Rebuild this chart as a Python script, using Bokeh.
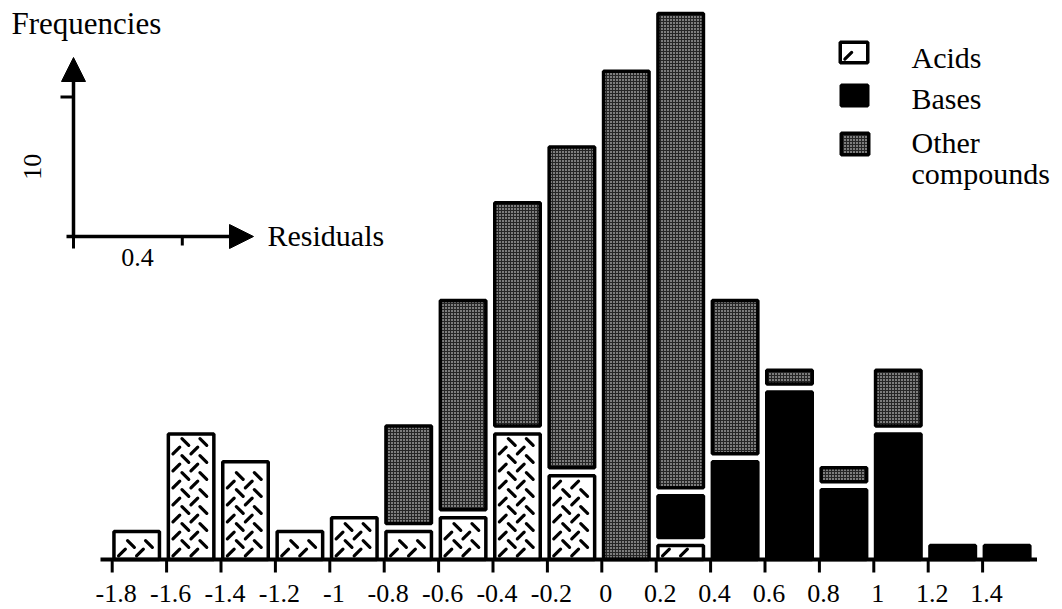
import math
from bokeh.plotting import figure
from bokeh.models import Range1d, Arrow, NormalHead
from bokeh.embed import file_html
from bokeh.resources import INLINE
from bokeh.core.properties import value

# ---------------- data ----------------
bin_lefts = [-1.8, -1.6, -1.4, -1.2, -1.0, -0.8, -0.6, -0.4, -0.2, 0.0,
             0.2, 0.4, 0.6, 0.8, 1.0, 1.2, 1.4]
acids = [2, 9, 7, 2, 3, 2, 3, 9, 6, 0, 1, 0, 0, 0, 0, 0, 0]
bases = [0, 0, 0, 0, 0, 0, 0, 0, 0, 0, 3, 7, 12, 5, 9, 1, 1]
others = [0, 0, 0, 0, 0, 7, 15, 16, 23, 35, 34, 11, 1, 1, 4, 0, 0]
tick_labels = ["-1.8", "-1.6", "-1.4", "-1.2", "-1", "-0.8", "-0.6", "-0.4", "-0.2",
               "0", "0.2", "0.4", "0.6", "0.8", "1", "1.2", "1.4"]
bin_width = 0.2
legend_labels = ["Acids", "Bases", "Other compounds"]
y_title = "Frequencies"
x_title = "Residuals"
scale_dx = 0.4
scale_dy = 10

# ---------------- layout ----------------
W, H = 1062, 609
PXU_X = 272.0          # px per residual unit
PXU_Y = 13.95          # px per count
ORIG_PX = 111.7        # px of first bin edge
BASE_PX = 559.0        # px (from top) of count 0
TXT_FIX = 10           # renderer places alphabetic baseline ~10px low
x_start = bin_lefts[0] - ORIG_PX / PXU_X
x_end = x_start + W / PXU_X
y_start = -(H - BASE_PX) / PXU_Y
y_end = BASE_PX / PXU_Y


def X(px):
    return x_start + px / PXU_X


def Y(py):
    return (BASE_PX - py) / PXU_Y


def YT(py):  # for alphabetic text baselines
    return Y(py - TXT_FIX)


FONT = value("Liberation Serif")
LW = 3.5

p = figure(width=W, height=H, output_backend="svg", toolbar_location=None,
           x_range=Range1d(x_start, x_end), y_range=Range1d(y_start, y_end),
           x_axis_type=None, y_axis_type=None, min_border=0)
p.outline_line_color = None
p.xgrid.visible = False
p.ygrid.visible = False
p.background_fill_color = "white"

# ---------------- stacked bars ----------------
gap = 8 / PXU_Y
pad_l = 1.75 / PXU_X
pad_r = 1.75 / PXU_X + 5.4 / PXU_X
segs = {k: dict(left=[], right=[], bottom=[], top=[]) for k in ("acids", "bases", "other")}
for i, x in enumerate(bin_lefts):
    cur = 0.0
    for name, arr in (("acids", acids), ("bases", bases), ("other", others)):
        c = arr[i]
        if c == 0:
            continue
        b = cur + (gap if cur > 0 else 0.0)
        t = b + c
        d = segs[name]
        d["left"].append(x + pad_l)
        d["right"].append(x + bin_width - pad_r)
        d["bottom"].append(b)
        d["top"].append(t)
        cur = t

# legend swatches (px boxes)
sw_boxes = [(838, 869, 40, 64), (839, 869, 83, 107), (839, 870, 131, 156)]
for key, (l, r, t, b) in zip(("acids", "bases", "other"), sw_boxes):
    d = segs[key]
    d["left"].append(X(l + 1.75))
    d["right"].append(X(r - 1.75))
    d["top"].append(Y(t + 1.75))
    d["bottom"].append(Y(b - 1.75))

# acid texture: alternating "/" and "\" dashes inside each acid box
dash_x0, dash_y0, dash_x1, dash_y1 = [], [], [], []
HALF = 3.4          # half extent of a dash, px
for l, r, b, t in zip(segs["acids"]["left"], segs["acids"]["right"],
                      segs["acids"]["bottom"], segs["acids"]["top"]):
    lpx = (l - x_start) * PXU_X
    rpx = (r - x_start) * PXU_X
    bpx = BASE_PX - b * PXU_Y
    tpx = BASE_PX - t * PXU_Y
    row = 0
    cy = bpx - 7.0
    while cy - HALF > tpx + 3.0:
        cols = (8.0, 26.0) if row % 2 == 0 else (17.0, 35.0)
        for cx_rel in cols:
            cx = lpx + cx_rel
            if cx + HALF > rpx - 3.0:
                continue
            sgn = 1 if row % 2 == 0 else -1
            dash_x0.append(X(cx - HALF))
            dash_x1.append(X(cx + HALF))
            dash_y0.append(Y(cy + sgn * HALF))
            dash_y1.append(Y(cy - sgn * HALF))
        row += 1
        cy -= 8.5

p.quad(**segs["acids"], fill_color="white", line_color=None)
p.segment(x0=dash_x0, y0=dash_y0, x1=dash_x1, y1=dash_y1, line_color="black",
          line_width=3.2, line_cap="round")
p.quad(**segs["acids"], fill_alpha=0, line_color="black", line_width=LW)
p.quad(**segs["bases"], fill_color="black", line_color="black", line_width=LW)
p.quad(**segs["other"], fill_color="#262626", line_color="black", line_width=LW,
       hatch_pattern="dot", hatch_color="white", hatch_scale=3, hatch_weight=1)

# ---------------- x axis ----------------
p.segment(x0=[bin_lefts[0] - 11.7 / PXU_X], y0=[0], x1=[bin_lefts[-1] + bin_width], y1=[0],
          line_color="black", line_width=4)
tick_len = 13 / PXU_Y
p.segment(x0=bin_lefts, y0=[0] * len(bin_lefts), x1=bin_lefts,
          y1=[-tick_len] * len(bin_lefts), line_color="black", line_width=3)
p.text(x=bin_lefts, y=[YT(603)] * len(bin_lefts), text=tick_labels, x_offset=4,
       text_align="center", text_baseline="alphabetic", text_font=FONT,
       text_font_size="26px", text_color="black")

# ---------------- scale key (upper left) ----------------
ox, oy = X(73), Y(236)
p.add_layout(Arrow(end=NormalHead(size=24, fill_color="black", line_color="black", line_width=1),
                   x_start=ox, y_start=oy, x_end=ox, y_end=Y(57),
                   line_color="black", line_width=LW))
p.add_layout(Arrow(end=NormalHead(size=24, fill_color="black", line_color="black", line_width=1),
                   x_start=X(66), y_start=oy, x_end=X(253), y_end=oy,
                   line_color="black", line_width=LW))
p.segment(x0=[ox, X(60), ox + scale_dx], y0=[oy, oy + scale_dy, oy],
          x1=[ox, ox, ox + scale_dx], y1=[Y(248), oy + scale_dy, Y(245)],
          line_color="black", line_width=3)
p.text(x=[X(137)], y=[YT(267)], text=[f"{scale_dx:g}"], text_align="center",
       text_baseline="alphabetic", text_font=FONT, text_font_size="26px")
p.text(x=[X(32)], y=[oy + scale_dy / 2], text=[f"{scale_dy:g}"], angle=math.pi / 2,
       text_align="center", text_baseline="middle", text_font=FONT, text_font_size="26px")
p.text(x=[X(267)], y=[YT(245)], text=[x_title], text_align="left",
       text_baseline="alphabetic", text_font=FONT, text_font_size="30px")
p.text(x=[X(11)], y=[YT(33)], text=[y_title], text_align="left",
       text_baseline="alphabetic", text_font=FONT, text_font_size="31px")

# ---------------- legend labels ----------------
leg_lines = legend_labels[:2] + legend_labels[2].split(" ")
leg_base = [66.5, 108, 152, 183]
p.text(x=[X(911)] * len(leg_lines), y=[YT(b) for b in leg_base], text=leg_lines,
       text_align="left", text_baseline="alphabetic", text_font=FONT, text_font_size="30px")

open("out.html", "w").write(file_html(p, INLINE))
